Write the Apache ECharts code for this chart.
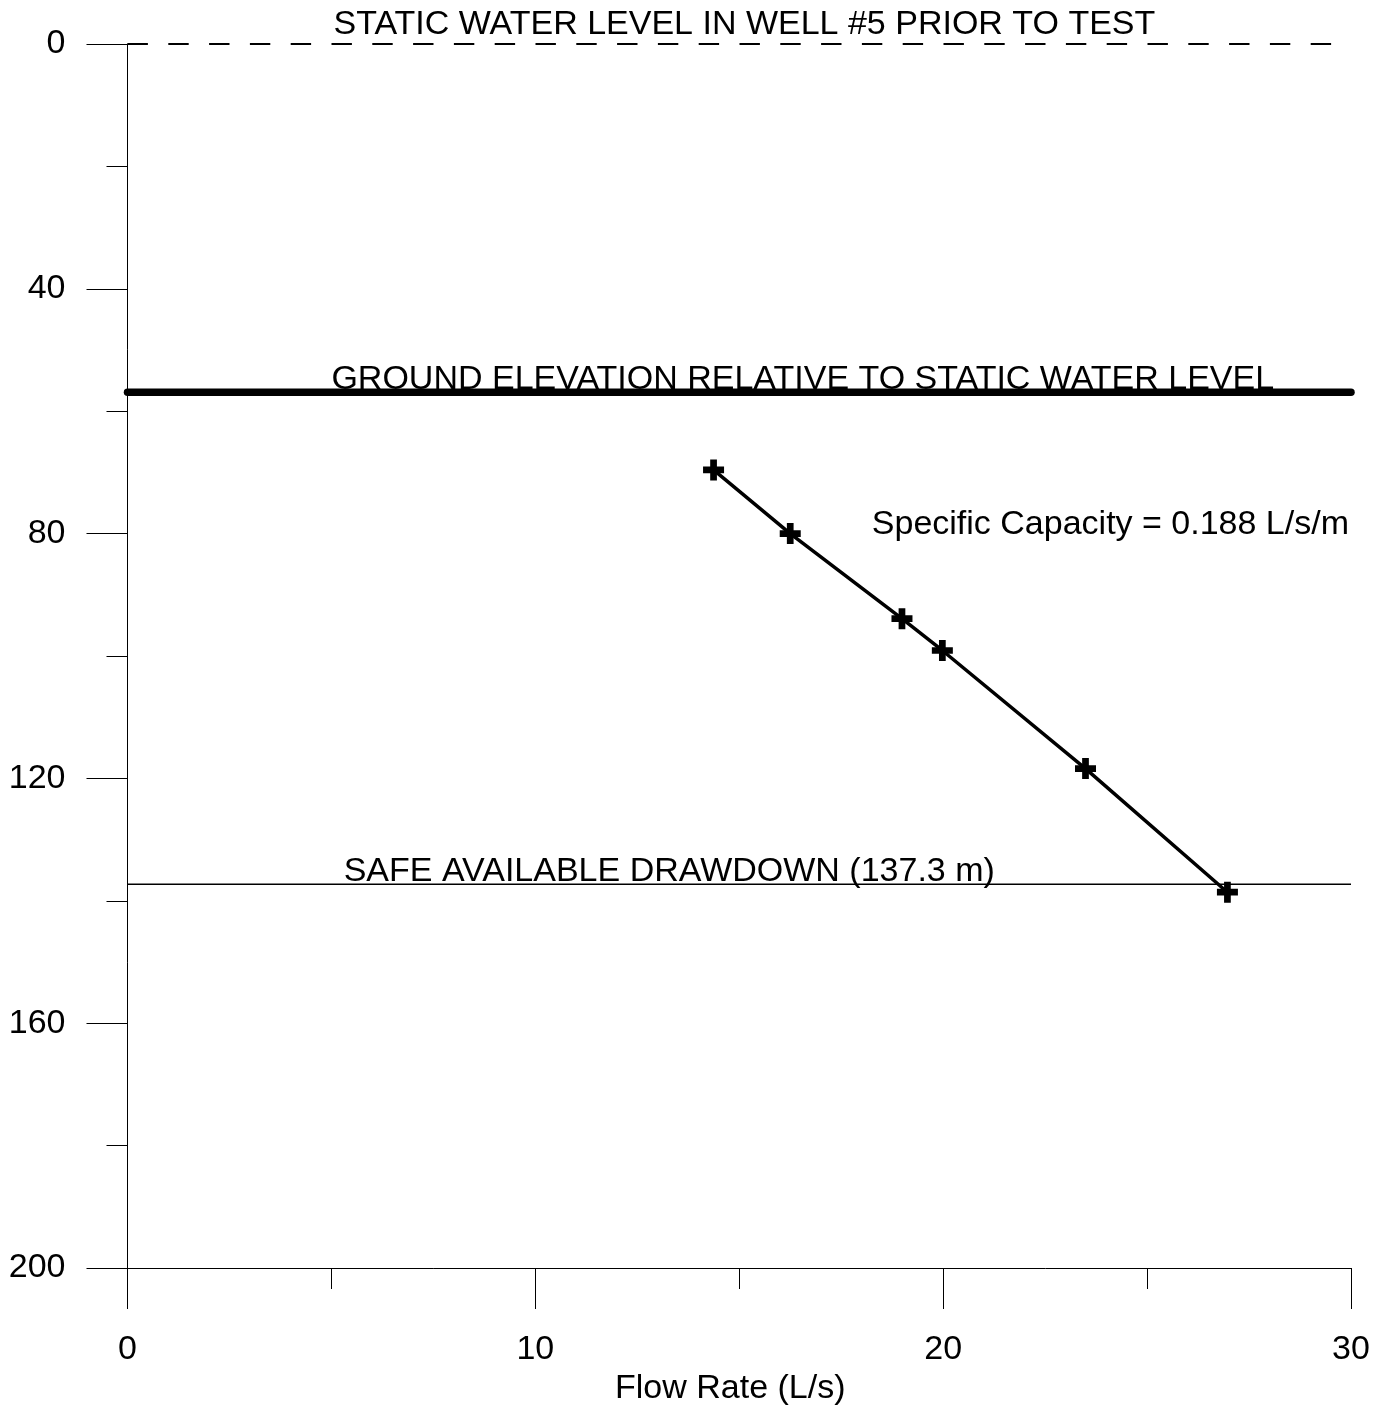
<!DOCTYPE html>
<html>
<head>
<meta charset="utf-8">
<script src="https://cdn.jsdelivr.net/npm/echarts@6/dist/echarts.min.js"></script>
<style>
  html, body { margin: 0; padding: 0; background: #ffffff; overflow: hidden; }
  #chart { width: 1381px; height: 1406px; }
</style>
</head>
<body>
<div id="chart"></div>
<script>
// Step test results for well #5: drawdown (m) against pumping rate (L/s)
const flowRate = [14.37, 16.25, 18.99, 19.98, 23.49, 26.97];
const drawdown = [69.6, 80.0, 93.9, 99.1, 118.4, 138.6];

// Reference levels, metres below static water level
const staticWaterLevel = 0;
const groundElevation = 56.9;
const safeDrawdown = 137.3;
const specificCapacity = 0.188;

// Axis ranges and labelled ticks
const xRange = [0, 30];
const yRange = [0, 200];
const xTickStep = 10;
const yTickStep = 40;

const FONT = "'Liberation Sans', Arial, Helvetica, sans-serif";
const INK = '#000000';
const FONT_SIZE = 34;

const testPoints = flowRate.map((q, i) => [q, drawdown[i]]);
const levelLine = (y) => [[xRange[0], y], [xRange[1], y]];

// Bold "+" marker
const plusMark = 'path://M-1.6,-5L1.6,-5L1.6,-1.6L5,-1.6L5,1.6L1.6,1.6L1.6,5L-1.6,5L-1.6,1.6L-5,1.6L-5,-1.6L-1.6,-1.6Z';

const chart = echarts.init(document.getElementById('chart'), null, { renderer: 'canvas' });

const option = {
  backgroundColor: '#ffffff',
  animation: false,
  textStyle: { fontFamily: FONT, color: INK },
  grid: {
    left: 127.5, right: 30, top: 44, bottom: 138,
    containLabel: false,
    outerBoundsMode: 'none'
  },
  xAxis: {
    type: 'value',
    position: 'bottom',
    min: xRange[0], max: xRange[1], interval: xTickStep,
    name: 'Flow Rate (L/s)',
    nameLocation: 'middle',
    nameGap: 101,
    nameTextStyle: { fontFamily: FONT, fontSize: FONT_SIZE, color: INK, padding: [0, 18, 0, 0] },
    axisLine: { show: true, onZero: false, lineStyle: { color: INK, width: 1 } },
    axisTick: { show: true, inside: false, length: 41, lineStyle: { color: INK, width: 1 } },
    minorTick: { show: true, splitNumber: 2, length: 21, lineStyle: { color: INK, width: 1 } },
    axisLabel: { margin: 65, fontFamily: FONT, fontSize: FONT_SIZE, color: INK },
    splitLine: { show: false },
    minorSplitLine: { show: false }
  },
  yAxis: {
    type: 'value',
    inverse: true,
    position: 'left',
    min: yRange[0], max: yRange[1], interval: yTickStep,
    axisLine: { show: true, onZero: false, lineStyle: { color: INK, width: 1 } },
    axisTick: { show: true, inside: false, length: 41, lineStyle: { color: INK, width: 1 } },
    minorTick: { show: true, splitNumber: 2, length: 21, lineStyle: { color: INK, width: 1 } },
    axisLabel: { margin: 62, fontFamily: FONT, fontSize: FONT_SIZE, color: INK },
    splitLine: { show: false },
    minorSplitLine: { show: false }
  },
  series: [
    {
      name: 'Static water level',
      type: 'line',
      data: levelLine(staticWaterLevel),
      symbol: 'none',
      silent: true,
      z: 2,
      lineStyle: { color: INK, width: 2, type: [20.4, 20.4] }
    },
    {
      name: 'Ground elevation',
      type: 'line',
      data: levelLine(groundElevation),
      symbol: 'none',
      silent: true,
      z: 3,
      lineStyle: { color: INK, width: 7.5, cap: 'round' }
    },
    {
      name: 'Safe available drawdown',
      type: 'line',
      data: levelLine(safeDrawdown),
      symbol: 'none',
      silent: true,
      z: 2,
      lineStyle: { color: INK, width: 1.4 }
    },
    {
      name: 'Drawdown',
      type: 'line',
      data: testPoints,
      symbol: plusMark,
      symbolSize: 21,
      z: 5,
      itemStyle: { color: INK, borderWidth: 0 },
      lineStyle: { color: INK, width: 3.5 }
    }
  ]
};

chart.setOption(option);

// Annotations anchored to data coordinates
function px(x, y) { return chart.convertToPixel({ gridIndex: 0 }, [x, y]); }

const staticPos = px(5.05, staticWaterLevel);
const groundPos = px(5.0, groundElevation);
const safePos = px(5.3, safeDrawdown);
const capPos = px(18.25, 78.6);

const textStyle = (t) => ({
  text: t,
  font: `${FONT_SIZE}px ${FONT}`,
  fill: INK,
  align: 'left',
  verticalAlign: 'middle'
});

chart.setOption({
  graphic: [
    { type: 'text', x: staticPos[0], y: staticPos[1] - 19, style: textStyle('STATIC WATER LEVEL IN WELL #5 PRIOR TO TEST') },
    { type: 'text', x: groundPos[0], y: groundPos[1] - 13, style: textStyle('GROUND ELEVATION RELATIVE TO STATIC WATER LEVEL') },
    { type: 'text', x: capPos[0], y: capPos[1], style: textStyle('Specific Capacity = ' + specificCapacity.toFixed(3) + ' L/s/m') },
    { type: 'text', x: safePos[0], y: safePos[1] - 13, style: textStyle('SAFE AVAILABLE DRAWDOWN (' + safeDrawdown.toFixed(1) + ' m)') }
  ]
});
</script>
</body>
</html>
